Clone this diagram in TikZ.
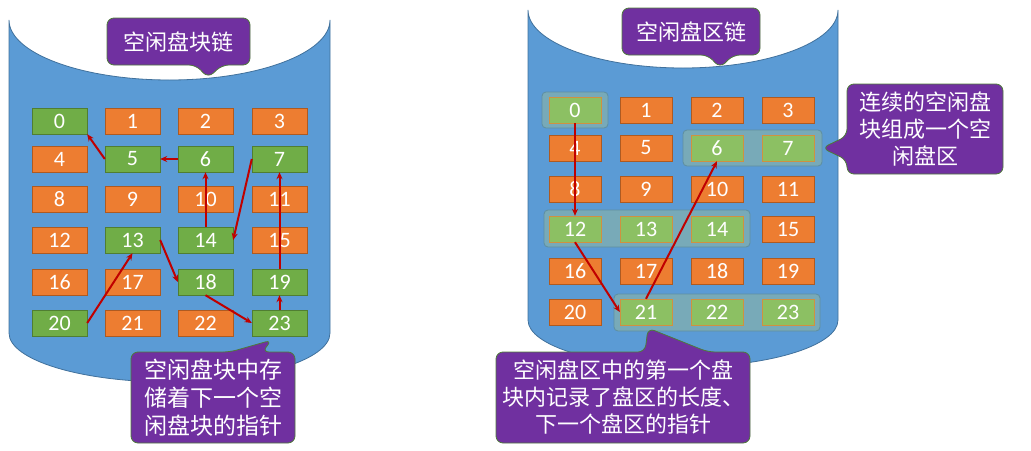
\documentclass[tikz,border=0pt]{standalone}
\usepackage{fontspec}
\setmainfont{Carlito}
\newfontfamily\cjk{Noto Sans CJK SC}
\usetikzlibrary{arrows.meta}
\definecolor{cyl}{HTML}{5B9BD5}
\definecolor{cylb}{HTML}{41719C}
\definecolor{og}{HTML}{ED7D31}
\definecolor{ogb}{HTML}{AE5A21}
\definecolor{gr}{HTML}{70AD47}
\definecolor{grb}{HTML}{507E32}
\definecolor{lgr}{HTML}{8CC063}
\definecolor{pur}{HTML}{7030A0}
\definecolor{purb}{HTML}{4E7A3A}
\definecolor{grp}{HTML}{78AAB8}
\definecolor{grpb}{HTML}{5F8FA0}
\definecolor{arr}{HTML}{C00000}
\tikzset{
 blk/.style={minimum width=55pt,minimum height=26pt,inner sep=0pt,font=\fontsize{22}{24}\selectfont,text=white},
 ob/.style={blk,fill=og,draw=ogb},
 gb/.style={blk,fill=gr,draw=grb},
 lb/.style={blk,minimum width=52pt,fill=lgr,draw=og!70!lgr},
 obr/.style={ob,minimum width=52pt},
 grpbox/.style={fill=grp,draw=grpb,rounded corners=4pt,line width=0.8pt},
 ar/.style={draw=arr,line width=2pt,-{Stealth[length=7pt,width=6pt]}},
 call/.style={fill=pur,draw=purb,line width=0.8pt,rounded corners=7pt},
 ctext/.style={text=white,font=\cjk\fontsize{22}{27}\selectfont,align=center,inner sep=0pt},
 cyls/.style={fill=cyl,draw=cylb,line width=0.8pt}
}
\begin{document}
\begin{tikzpicture}[x=1pt,y=-1pt]
\useasboundingbox (0,0) rectangle (1031,450);
% left cylinder
\path[cyls] (9,20) .. controls (9,53) and (81,80) .. (169.5,80) .. controls (258,80) and (330,53) .. (330,20)
 -- (330,333) .. controls (330,360) and (258,382) .. (169.5,382) .. controls (81,382) and (9,360) .. (9,333) -- cycle;
% right cylinder
\path[cyls] (528,10) .. controls (528,42) and (598,68) .. (683,68) .. controls (768,68) and (838,42) .. (838,10)
 -- (838,320) .. controls (838,346) and (768,367) .. (683,367) .. controls (598,367) and (528,346) .. (528,320) -- cycle;
% left blocks
\foreach \n/\x/\y/\s in {0/59.5/121/gb,1/132.5/121/ob,2/205.5/121/ob,3/279.5/121/ob,
 4/59.5/159/ob,5/132.5/159/gb,6/205.5/159/gb,7/279.5/159/gb,
 8/59.5/199/ob,9/132.5/199/ob,10/205.5/199/ob,11/279.5/199/ob,
 12/59.5/240/ob,13/132.5/240/gb,14/205.5/240/gb,15/279.5/240/ob,
 16/59.5/282/ob,17/132.5/282/ob,18/205.5/282/gb,19/279.5/282/gb,
 20/59.5/323/gb,21/132.5/323/ob,22/205.5/323/ob,23/279.5/323/gb}
 \node[\s] (L\n) at (\x,\y) {\n};
\draw[ar] (L5.west) -- (L0.south east);
\draw[ar] (L6.west) -- (L5.east);
\draw[ar] (L14.north) -- (L6.south);
\draw[ar] (L7.west) -- (L14.east);
\draw[ar] (L19.north) -- (L7.south);
\draw[ar] (L23.north) -- (L19.south);
\draw[ar] (L18.south) -- (L23.west);
\draw[ar] (L13.east) -- (L18.west);
\draw[ar] (L20.east) -- (L13.south);
% right groups
\path[grpbox] (542,92) rectangle (608,128);
\path[grpbox] (683,130) rectangle (822,166);
\path[grpbox] (544,210) rectangle (750,247);
\path[grpbox] (614,294) rectangle (820,331);
% right blocks
\foreach \n/\x/\y/\s in {0/575/110/lb,1/646/110/obr,2/717/110/obr,3/788/110/obr,
 4/575/148/obr,5/646/148/obr,6/717/148/lb,7/788/148/lb,
 8/575/189/obr,9/646/189/obr,10/717/189/obr,11/788/189/obr,
 12/575/229/lb,13/646/229/lb,14/717/229/lb,15/788/229/obr,
 16/575/271/obr,17/646/271/obr,18/717/271/obr,19/788/271/obr,
 20/575/312/obr,21/646/312/lb,22/717/312/lb,23/788/312/lb}
 \node[\s] (R\n) at (\x,\y) {\n};
\draw[ar] (R0.south) -- (R12.north);
\draw[ar] (R12.south) -- (R21.west);
\draw[ar] (R21.north) -- (R6.south);
% callouts
\path[call] (107,18) -- (250,18) -- (250,65) -- (222,65) -- (208,78) -- (196,65) -- (107,65) -- cycle;
\node[ctext] (c1) at (178.5,42) {空闲盘块链};
\path[call] (131,352) -- (230,352) -- (272,340) -- (262,352) -- (295,352) -- (295,443) -- (131,443) -- cycle;
\node[ctext,font=\cjk\fontsize{23}{28}\selectfont] (c2) at (213,397.5) {空闲盘块中存\\储着下一个空\\闲盘块的指针};
\path[call] (622,8) -- (760,8) -- (760,55) -- (733,55) -- (720,68) -- (708,55) -- (622,55) -- cycle;
\node[ctext] (c3) at (691,32) {空闲盘区链};
\path[call] (847,84) -- (1003,84) -- (1003,174) -- (847,174) -- (847,160) -- (822,148) -- (847,136) -- cycle;
\node[ctext] (c4) at (925,129) {连续的空闲盘\\块组成一个空\\闲盘区};
\path[call] (496,352) -- (645,352) -- (648,328) -- (708,352) -- (750,352) -- (750,443) -- (496,443) -- cycle;
\node[ctext] (c5) at (623,397.5) {空闲盘区中的第一个盘\\块内记录了盘区的长度、\\下一个盘区的指针};
\end{tikzpicture}
\end{document}
